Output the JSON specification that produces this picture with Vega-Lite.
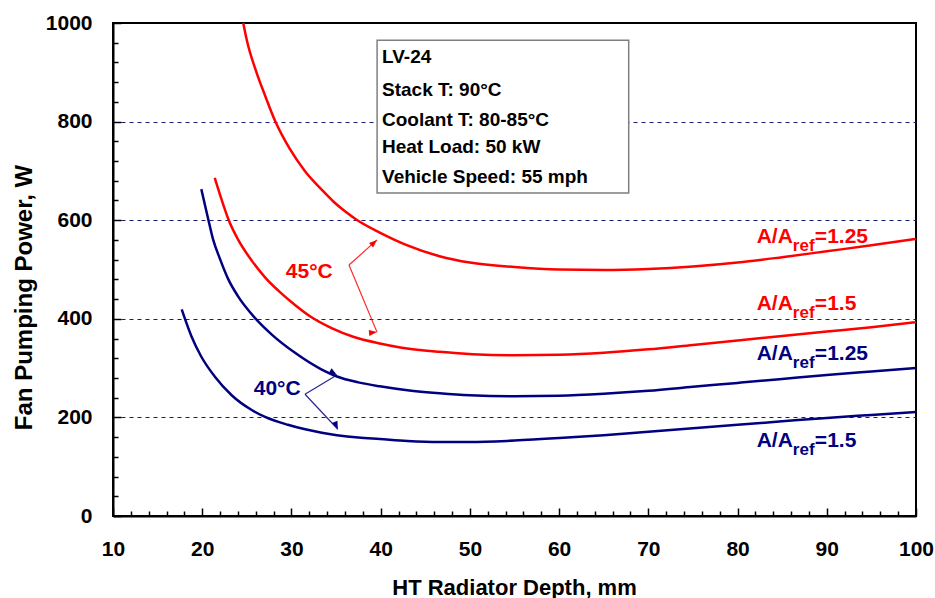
{
  "$schema": "https://vega.github.io/schema/vega-lite/v6.json",
  "width": 803,
  "height": 493,
  "autosize": "none",
  "padding": {"left": 113, "top": 23, "right": 19, "bottom": 82},
  "background": "white",
  "config": {
    "view": {"stroke": "black", "strokeWidth": 2},
    "font": "Liberation Sans"
  },
  "datasets": {
    "curves": [
      {"series": "r125", "temp": "45", "depth": 24.6, "power": 1000},
      {"series": "r125", "temp": "45", "depth": 25, "power": 965},
      {"series": "r125", "temp": "45", "depth": 26.1, "power": 899},
      {"series": "r125", "temp": "45", "depth": 27, "power": 855},
      {"series": "r125", "temp": "45", "depth": 28.2, "power": 800},
      {"series": "r125", "temp": "45", "depth": 29.8, "power": 745},
      {"series": "r125", "temp": "45", "depth": 31.5, "power": 700},
      {"series": "r125", "temp": "45", "depth": 33.5, "power": 660},
      {"series": "r125", "temp": "45", "depth": 34.7, "power": 638},
      {"series": "r125", "temp": "45", "depth": 36, "power": 618},
      {"series": "r125", "temp": "45", "depth": 37.3, "power": 601},
      {"series": "r125", "temp": "45", "depth": 39.9, "power": 575},
      {"series": "r125", "temp": "45", "depth": 43, "power": 549},
      {"series": "r125", "temp": "45", "depth": 46.6, "power": 527},
      {"series": "r125", "temp": "45", "depth": 50, "power": 514},
      {"series": "r125", "temp": "45", "depth": 55, "power": 505},
      {"series": "r125", "temp": "45", "depth": 60, "power": 500},
      {"series": "r125", "temp": "45", "depth": 65, "power": 499},
      {"series": "r125", "temp": "45", "depth": 70, "power": 501},
      {"series": "r125", "temp": "45", "depth": 75, "power": 506},
      {"series": "r125", "temp": "45", "depth": 80, "power": 514},
      {"series": "r125", "temp": "45", "depth": 85, "power": 525},
      {"series": "r125", "temp": "45", "depth": 90, "power": 537},
      {"series": "r125", "temp": "45", "depth": 95, "power": 549},
      {"series": "r125", "temp": "45", "depth": 100, "power": 562},

      {"series": "r15", "temp": "45", "depth": 21.4, "power": 686},
      {"series": "r15", "temp": "45", "depth": 22.2, "power": 640},
      {"series": "r15", "temp": "45", "depth": 22.95, "power": 601},
      {"series": "r15", "temp": "45", "depth": 24.04, "power": 560},
      {"series": "r15", "temp": "45", "depth": 25.55, "power": 518},
      {"series": "r15", "temp": "45", "depth": 27.04, "power": 484},
      {"series": "r15", "temp": "45", "depth": 28.9, "power": 451},
      {"series": "r15", "temp": "45", "depth": 30.4, "power": 428},
      {"series": "r15", "temp": "45", "depth": 32.08, "power": 405},
      {"series": "r15", "temp": "45", "depth": 34.5, "power": 381},
      {"series": "r15", "temp": "45", "depth": 37, "power": 363},
      {"series": "r15", "temp": "45", "depth": 39.9, "power": 350},
      {"series": "r15", "temp": "45", "depth": 42.2, "power": 342},
      {"series": "r15", "temp": "45", "depth": 46.6, "power": 333},
      {"series": "r15", "temp": "45", "depth": 50.3, "power": 328},
      {"series": "r15", "temp": "45", "depth": 55, "power": 326},
      {"series": "r15", "temp": "45", "depth": 60, "power": 327},
      {"series": "r15", "temp": "45", "depth": 65, "power": 331},
      {"series": "r15", "temp": "45", "depth": 70, "power": 338},
      {"series": "r15", "temp": "45", "depth": 75, "power": 347},
      {"series": "r15", "temp": "45", "depth": 80, "power": 356},
      {"series": "r15", "temp": "45", "depth": 85, "power": 365},
      {"series": "r15", "temp": "45", "depth": 90, "power": 374},
      {"series": "r15", "temp": "45", "depth": 95, "power": 383},
      {"series": "r15", "temp": "45", "depth": 100, "power": 393},

      {"series": "b125", "temp": "40", "depth": 19.9, "power": 663},
      {"series": "b125", "temp": "40", "depth": 20.7, "power": 600},
      {"series": "b125", "temp": "40", "depth": 21.2, "power": 562},
      {"series": "b125", "temp": "40", "depth": 22, "power": 521},
      {"series": "b125", "temp": "40", "depth": 22.9, "power": 481},
      {"series": "b125", "temp": "40", "depth": 24, "power": 446},
      {"series": "b125", "temp": "40", "depth": 25.9, "power": 402},
      {"series": "b125", "temp": "40", "depth": 27.8, "power": 368},
      {"series": "b125", "temp": "40", "depth": 30.4, "power": 331},
      {"series": "b125", "temp": "40", "depth": 33.4, "power": 297},
      {"series": "b125", "temp": "40", "depth": 35.1, "power": 283},
      {"series": "b125", "temp": "40", "depth": 37.5, "power": 271},
      {"series": "b125", "temp": "40", "depth": 39.9, "power": 263},
      {"series": "b125", "temp": "40", "depth": 43, "power": 255},
      {"series": "b125", "temp": "40", "depth": 46.6, "power": 249},
      {"series": "b125", "temp": "40", "depth": 50, "power": 245},
      {"series": "b125", "temp": "40", "depth": 55, "power": 243},
      {"series": "b125", "temp": "40", "depth": 60, "power": 244},
      {"series": "b125", "temp": "40", "depth": 65, "power": 248},
      {"series": "b125", "temp": "40", "depth": 70, "power": 254},
      {"series": "b125", "temp": "40", "depth": 75, "power": 262},
      {"series": "b125", "temp": "40", "depth": 80, "power": 270},
      {"series": "b125", "temp": "40", "depth": 85, "power": 278},
      {"series": "b125", "temp": "40", "depth": 90, "power": 286},
      {"series": "b125", "temp": "40", "depth": 95, "power": 293},
      {"series": "b125", "temp": "40", "depth": 100, "power": 300},

      {"series": "b15", "temp": "40", "depth": 17.7, "power": 419},
      {"series": "b15", "temp": "40", "depth": 18.8, "power": 364},
      {"series": "b15", "temp": "40", "depth": 19.9, "power": 323},
      {"series": "b15", "temp": "40", "depth": 21.4, "power": 283},
      {"series": "b15", "temp": "40", "depth": 23.3, "power": 245},
      {"series": "b15", "temp": "40", "depth": 25.55, "power": 215},
      {"series": "b15", "temp": "40", "depth": 27.04, "power": 201},
      {"series": "b15", "temp": "40", "depth": 29.6, "power": 185},
      {"series": "b15", "temp": "40", "depth": 33.4, "power": 169},
      {"series": "b15", "temp": "40", "depth": 35.1, "power": 164},
      {"series": "b15", "temp": "40", "depth": 37.5, "power": 159},
      {"series": "b15", "temp": "40", "depth": 39.9, "power": 156},
      {"series": "b15", "temp": "40", "depth": 43, "power": 152},
      {"series": "b15", "temp": "40", "depth": 46.6, "power": 150},
      {"series": "b15", "temp": "40", "depth": 50, "power": 150},
      {"series": "b15", "temp": "40", "depth": 55, "power": 153},
      {"series": "b15", "temp": "40", "depth": 60, "power": 158},
      {"series": "b15", "temp": "40", "depth": 65, "power": 164},
      {"series": "b15", "temp": "40", "depth": 70, "power": 171},
      {"series": "b15", "temp": "40", "depth": 75, "power": 178},
      {"series": "b15", "temp": "40", "depth": 80, "power": 185},
      {"series": "b15", "temp": "40", "depth": 85, "power": 192},
      {"series": "b15", "temp": "40", "depth": 90, "power": 199},
      {"series": "b15", "temp": "40", "depth": 95, "power": 205},
      {"series": "b15", "temp": "40", "depth": 100, "power": 211}
    ],
    "box": [{"x1": 39.6, "x2": 67.8, "y1": 965, "y2": 655}],
    "boxText": [
      {"line": "LV-24", "y": 931},
      {"line": "Stack T: 90°C", "y": 864},
      {"line": "Coolant T: 80-85°C", "y": 803},
      {"line": "Heat Load: 50 kW", "y": 748},
      {"line": "Vehicle Speed: 55 mph", "y": 688}
    ],
    "labels": [
      {"temp": "45", "y": 554, "post": "=1.25"},
      {"temp": "45", "y": 418, "post": "=1.5"},
      {"temp": "40", "y": 316, "post": "=1.25"},
      {"temp": "40", "y": 140, "post": "=1.5"}
    ],
    "tempLabels": [
      {"temp": "45", "label": "45°C", "x": 32.0, "y": 494},
      {"temp": "40", "label": "40°C", "x": 28.4, "y": 257}
    ],
    "arrows": [
      {"id": "r1", "temp": "45", "x0": 36.45, "y0": 509, "x1": 39.59, "y1": 560},
      {"id": "r2", "temp": "45", "x0": 36.45, "y0": 509, "x1": 39.59, "y1": 373},
      {"id": "b1", "temp": "40", "x0": 31.52, "y0": 247, "x1": 35.1, "y1": 286},
      {"id": "b2", "temp": "40", "x0": 31.52, "y0": 247, "x1": 35.2, "y1": 176}
    ]
  },
  "layer": [
    {
      "data": {"name": "curves"},
      "mark": {"type": "line", "interpolate": "monotone", "strokeWidth": 2.5},
      "encoding": {
        "x": {
          "field": "depth", "type": "quantitative",
          "scale": {"domain": [10, 100], "nice": false, "zero": false},
          "axis": {
            "title": "HT Radiator Depth, mm",
            "values": [10,12,14,16,18,20,22,24,26,28,30,32,34,36,38,40,42,44,46,48,50,52,54,56,58,60,62,64,66,68,70,72,74,76,78,80,82,84,86,88,90,92,94,96,98,100],
            "tickCount": 200,
            "format": "d",
            "labelExpr": "datum.value % 10 === 0 ? datum.label : ''",
            "tickSize": {"condition": {"test": "datum.value % 10 === 0", "value": -8}, "value": -5},
            "labelPadding": 30,
            "labelFontSize": 21, "labelFontWeight": "bold", "labelColor": "black",
            "labelBaseline": "top", "labelFlush": false, "labelOverlap": false,
            "grid": false,
            "domainColor": "black", "domainWidth": 2,
            "tickColor": "black", "tickWidth": 1.5,
            "titleFontSize": 22, "titleFontWeight": "bold", "titleColor": "black",
            "titleX": 401, "titleY": 78, "titleBaseline": "alphabetic", "titleAlign": "center"
          }
        },
        "y": {
          "field": "power", "type": "quantitative",
          "scale": {"domain": [0, 1000], "nice": false, "zero": false},
          "axis": {
            "title": "Fan Pumping Power, W",
            "values": [0,40,80,120,160,200,240,280,320,360,400,440,480,520,560,600,640,680,720,760,800,840,880,920,960,1000],
            "tickCount": 200,
            "format": "d",
            "labelExpr": "datum.value % 200 === 0 ? datum.label : ''",
            "tickSize": {"condition": {"test": "datum.value % 200 === 0", "value": -8}, "value": -5},
            "labelPadding": 29,
            "labelFontSize": 21, "labelFontWeight": "bold", "labelColor": "black",
            "labelBaseline": "middle", "labelFlush": false, "labelOverlap": false,
            "grid": true, "gridColor": "#1a1a6e", "gridDash": [4, 4], "gridWidth": 1,
            "gridOpacity": {"condition": {"test": "datum.value > 0 && datum.value < 1000 && datum.value % 200 === 0", "value": 1}, "value": 0},
            "domainColor": "black", "domainWidth": 2,
            "tickColor": "black", "tickWidth": 1.5,
            "titleFontSize": 24, "titleFontWeight": "bold", "titleColor": "black",
            "titleAngle": -90, "titleX": -82, "titleY": 274, "titleBaseline": "alphabetic", "titleAlign": "center"
          }
        },
        "color": {"field": "temp", "type": "nominal", "scale": {"domain": ["45", "40"], "range": ["#ff0000", "#000080"]}, "legend": null},
        "detail": {"field": "series", "type": "nominal"}
      }
    },
    {
      "data": {"name": "box"},
      "mark": {"type": "rect", "fill": "white", "stroke": "#7f7f7f", "strokeWidth": 1.5},
      "encoding": {
        "x": {"field": "x1", "type": "quantitative"},
        "x2": {"field": "x2"},
        "y": {"field": "y1", "type": "quantitative"},
        "y2": {"field": "y2"}
      }
    },
    {
      "data": {"name": "boxText"},
      "mark": {"type": "text", "align": "left", "baseline": "middle", "fontSize": 19, "fontWeight": "bold", "color": "black"},
      "encoding": {
        "x": {"datum": 40.15, "type": "quantitative"},
        "y": {"field": "y", "type": "quantitative"},
        "text": {"field": "line"}
      }
    },
    {
      "data": {"name": "labels"},
      "mark": {"type": "text", "text": "A/A", "align": "right", "baseline": "alphabetic", "fontSize": 21, "fontWeight": "bold"},
      "encoding": {
        "x": {"datum": 86.2, "type": "quantitative"},
        "y": {"field": "y", "type": "quantitative"},
        "color": {"field": "temp", "type": "nominal", "legend": null}
      }
    },
    {
      "data": {"name": "labels"},
      "mark": {"type": "text", "text": "ref", "align": "left", "baseline": "alphabetic", "fontSize": 17, "fontWeight": "bold", "dy": 8},
      "encoding": {
        "x": {"datum": 86.2, "type": "quantitative"},
        "y": {"field": "y", "type": "quantitative"},
        "color": {"field": "temp", "type": "nominal", "legend": null}
      }
    },
    {
      "data": {"name": "labels"},
      "mark": {"type": "text", "align": "left", "baseline": "alphabetic", "fontSize": 21, "fontWeight": "bold", "dx": 22},
      "encoding": {
        "x": {"datum": 86.2, "type": "quantitative"},
        "y": {"field": "y", "type": "quantitative"},
        "text": {"field": "post"},
        "color": {"field": "temp", "type": "nominal", "legend": null}
      }
    },
    {
      "data": {"name": "tempLabels"},
      "mark": {"type": "text", "align": "center", "baseline": "middle", "fontSize": 21, "fontWeight": "bold"},
      "encoding": {
        "x": {"field": "x", "type": "quantitative"},
        "y": {"field": "y", "type": "quantitative"},
        "text": {"field": "label"},
        "color": {"field": "temp", "type": "nominal", "legend": null}
      }
    },
    {
      "data": {"name": "arrows"},
      "mark": {"type": "rule", "strokeWidth": 1.2, "opacity": 0.85},
      "encoding": {
        "x": {"field": "x0", "type": "quantitative"},
        "y": {"field": "y0", "type": "quantitative"},
        "x2": {"field": "x1"},
        "y2": {"field": "y1"},
        "color": {"field": "temp", "type": "nominal", "legend": null}
      }
    },
    {
      "data": {"name": "arrows"},
      "mark": {"type": "point", "shape": "M0,0L-0.75,2L0.75,2Z", "filled": true, "size": 64, "opacity": 1, "strokeWidth": 0},
      "encoding": {
        "x": {"field": "x1", "type": "quantitative"},
        "y": {"field": "y1", "type": "quantitative"},
        "angle": {"field": "id", "type": "nominal", "scale": {"domain": ["r1", "r2", "b1", "b2"], "range": [48, 157, 59, 137]}, "legend": null},
        "color": {"field": "temp", "type": "nominal", "legend": null}
      }
    }
  ]
}
